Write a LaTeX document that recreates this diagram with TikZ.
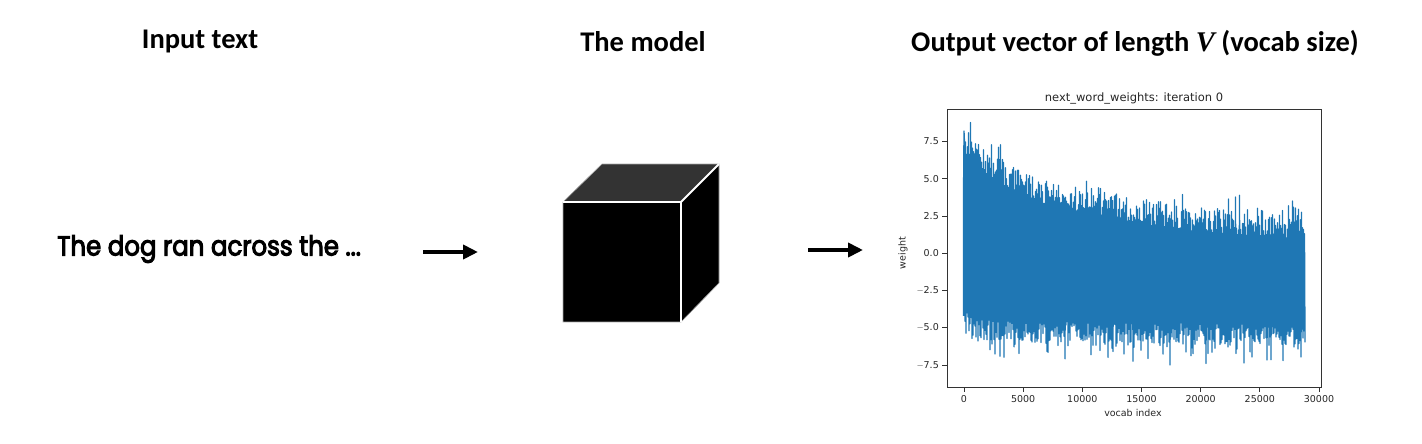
\documentclass[tikz,border=0pt]{standalone}
\usepackage{fontspec}
\setmainfont{Carlito}
\newfontfamily\popfont[FakeBold=4]{Poppins}
\newfontfamily\mplfont{DejaVu Sans}
\newfontfamily\vfont{Liberation Serif}
\usetikzlibrary{arrows.meta}
\definecolor{mplblue}{HTML}{1F77B4}
\definecolor{topgray}{HTML}{333333}
\tikzset{
  heading/.style={font=\fontsize{28.5}{30}\selectfont\bfseries, inner sep=0pt, anchor=center},
  inputtxt/.style={font=\popfont\fontsize{27.5}{30}\selectfont, inner sep=0pt, anchor=west, xscale=0.89},
  flowarrow/.style={line width=4pt, -{Triangle[length=15pt,width=14pt]}},
  cubeedge/.style={white, line width=2pt},
  axbox/.style={black!80, line width=0.9pt},
  tick/.style={black!80, line width=0.8pt},
  ticklab/.style={font=\mplfont\fontsize{9.5}{10}\selectfont, text=black!85, inner sep=0pt},
  plotline/.style={mplblue, line width=1.3pt, line join=round},
}
\begin{document}
\begin{tikzpicture}[x=1pt,y=-1pt]
\useasboundingbox (0,0) rectangle (1422,444);
\pgfmathsetseed{4242}
% headings
\node[heading] (h1) at (200,42) {Input text};
\node[heading] (h2) at (643,42) {The model};
\node[heading] (h3) at (1135,43) {Output vector of length {\vfont\bfseries\itshape V} (vocab size)};
% input text
\node[inputtxt] (inp) at (57,249) {The dog ran across the ...};
% arrows
\coordinate (a1s) at (423,252);
\coordinate (a1e) at (478,252);
\coordinate (a2s) at (808,250);
\coordinate (a2e) at (863,250);
\draw[flowarrow] (a1s) -- (a1e);
\draw[flowarrow] (a2s) -- (a2e);
% cube
\fill[black] (563,202) rectangle (681,322);
\fill[topgray] (563,202) -- (602,164) -- (719,164) -- (681,202) -- cycle;
\fill[black] (681,202) -- (719,164) -- (719,283) -- (681,322) -- cycle;
\draw[gray!70, line width=0.6pt] (563,202) -- (602,164) -- (719,164) -- (719,283) -- (681,322) -- (563,322) -- cycle;
\draw[cubeedge] (563,202) -- (681,202) -- (681,322);
\draw[cubeedge] (681,202) -- (719,164);
% plot data
\draw[plotline] (963.5,{253.3+14.9*4.2}) -- (963.5,{253.3-14.9*3.9}) -- (964,{253.3-14.9*8.2})
  foreach \i in {0,...,340} {
    -- ({964.5+\i},{253.3-14.9*min(8.8,1.6+1.6*(1-\i/340)+4.0*exp(-\i/70)+0.8*rand+1.4*rnd^5)})
    -- ({965+\i},{253.3+14.9*(5.1+0.4*\i/340-1.0*exp(-\i/5)+0.7*rand+1.6*rnd^5)})
  };
% axes
\draw[axbox] (947,109) rectangle (1321,387);
\foreach \v/\lab in {-7.5/{$-$7.5},-5/{$-$5.0},-2.5/{$-$2.5},0/0.0,2.5/2.5,5/5.0,7.5/7.5} {
  \draw[tick] (947,{253.3-14.9*\v}) -- (942,{253.3-14.9*\v});
  \node[ticklab, anchor=east] at (939,{253.3-14.9*\v}) {\mplfont\lab};
}
\foreach \k/\lab in {0/0,5/5000,10/10000,15/15000,20/20000,25/25000,30/30000} {
  \draw[tick] ({964+\k/30*355},387) -- ({964+\k/30*355},392);
  \node[ticklab, anchor=north] at ({964+\k/30*355},395) {\lab};
}
\node[ticklab, rotate=90] (ylab) at (903,253) {weight};
\node[ticklab] (xlab) at (1133,413) {vocab index};
\node[ticklab, font=\mplfont\fontsize{11.5}{12}\selectfont] (title) at (1134,98) {next\_word\_weights: iteration 0};
\end{tikzpicture}
\end{document}
